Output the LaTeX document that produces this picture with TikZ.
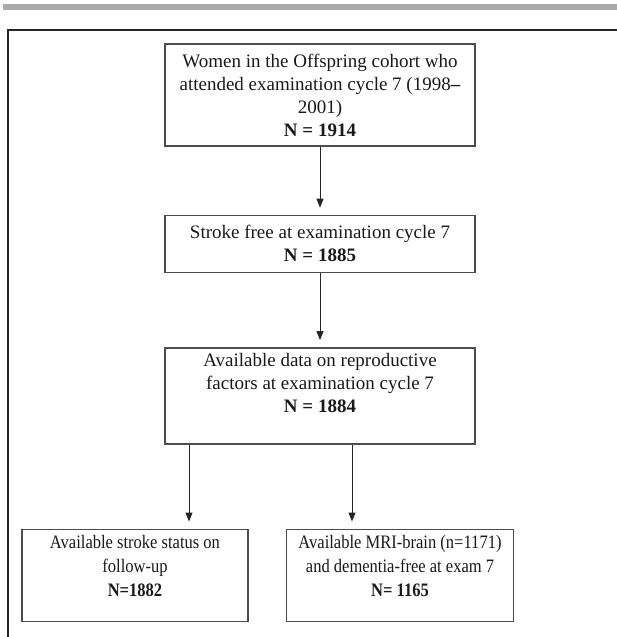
\documentclass[tikz,border=0pt]{standalone}
\usepackage{fontspec}
\setmainfont{Liberation Serif}
\newfontfamily\narrowserif[FakeStretch=0.87]{Liberation Serif}
\usetikzlibrary{positioning, arrows.meta}

\begin{document}
\begin{tikzpicture}[x=1pt, y=-1pt, node distance=10pt,
  box/.style={draw=black!70, line width=1.4pt, align=center, inner sep=0pt,
    text=black!90, font=\fontsize{19}{23}\selectfont},
  smallbox/.style={box, font=\narrowserif\fontsize{19}{24}\selectfont},
  arr/.style={draw=black!85, line width=1pt, -{Triangle[length=9pt,width=7pt]}, shorten >=7pt}]
  \path[use as bounding box, clip] (0,0) rectangle (617,637);
  \fill[black!33] (3,4) rectangle (617,9.5);
  \draw[black!85, line width=2.5pt] (8,30) rectangle (660,690);

  \node[box, minimum width=310pt, minimum height=102pt] at (320,95) (women)
    {Women in the Offspring cohort who\\attended examination cycle 7 (1998\textbf{--}\\2001)\\\textbf{N = 1914}};
  \node[box, minimum width=310pt, minimum height=57pt, below = 68pt of women] (free)
    {Stroke free at examination cycle 7\\\textbf{N = 1885}};
  \node[box, minimum width=310pt, minimum height=96pt, text depth=25pt, below = 74pt of free] (repro)
    {Available data on reproductive\\factors at examination cycle 7\\\textbf{N = 1884}};
  \node[smallbox, minimum width=226pt, minimum height=92pt, text depth=19pt, below = 84pt of repro, xshift=-185pt] (stroke)
    {Available stroke status on\\follow-up\\\textbf{N=1882}};
  \node[smallbox, minimum width=227pt, minimum height=92pt, text depth=19pt, below = 84pt of repro, xshift=80pt] (mri)
    {Available MRI-brain (n=1171)\\and dementia-free at exam 7\\\textbf{N= 1165}};

  \draw[arr] (women) -- (free);
  \draw[arr] (free) -- (repro);
  \draw[arr] ([xshift=-131pt]repro.south) -- ([xshift=-131pt]repro.south |- stroke.north);
  \draw[arr] ([xshift=32pt]repro.south) -- ([xshift=32pt]repro.south |- mri.north);
\end{tikzpicture}
\end{document}
